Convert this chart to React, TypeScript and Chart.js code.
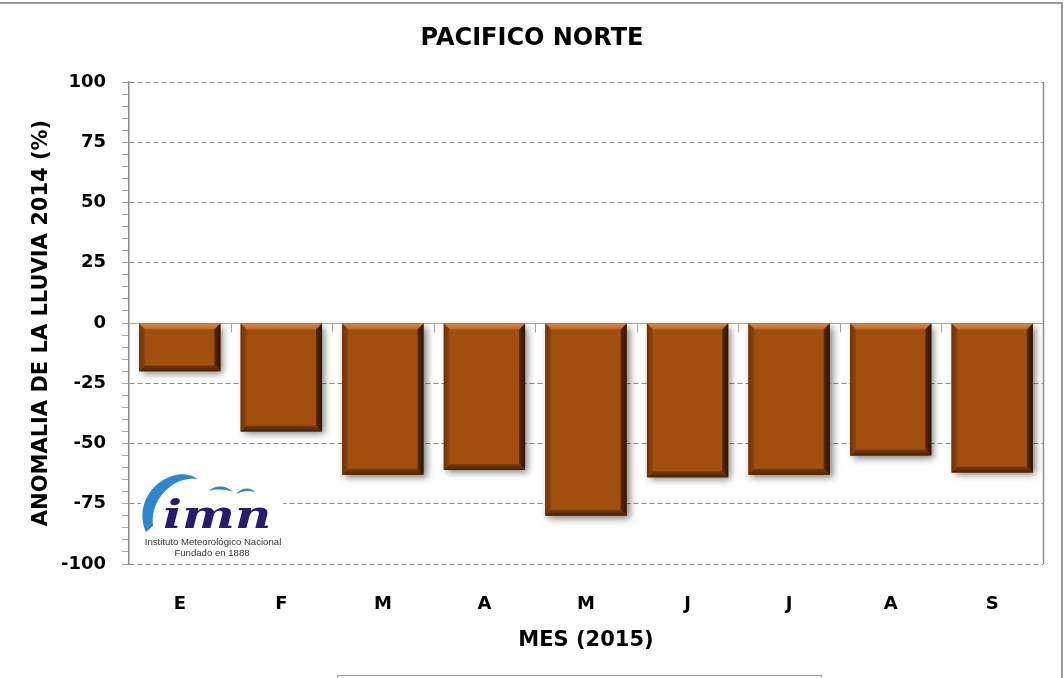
import React, { useEffect, useRef } from 'react';
import { Chart, registerables } from 'chart.js';

Chart.register(...registerables);

const chartTitle = 'PACIFICO NORTE';
const xAxisTitle = 'MES (2015)';
const yAxisTitle = 'ANOMALIA DE LA LLUVIA 2014 (%)';
const months = ['E', 'F', 'M', 'A', 'M', 'J', 'J', 'A', 'S'];
const anomalies = [-20, -45, -63, -61, -80, -64, -63, -55, -62];
const yMin = -100;
const yMax = 100;
const yStep = 5;
const yLabelStep = 25;
const logoLine1 = 'Instituto Meteorológico Nacional';
const logoLine2 = 'Fundado en 1888';
const logoText = 'imn';

const FONT = '"DejaVu Sans", sans-serif';
const BAR = '#A24F0E';

const decorPlugin = {
  id: 'decor',
  beforeDatasetsDraw(chart: any) {
    const { ctx, chartArea } = chart;
    const yScale = chart.scales.y;
    const xScale = chart.scales.x;
    const y0 = Math.round(yScale.getPixelForValue(0)) + 0.5;
    ctx.save();
    ctx.strokeStyle = '#a6a6a6';
    ctx.lineWidth = 1;
    ctx.setLineDash([]);
    ctx.beginPath();
    ctx.moveTo(chartArea.left, y0);
    ctx.lineTo(chartArea.right, y0);
    ctx.stroke();
    const n = months.length;
    for (let k = 1; k < n; k++) {
      const xp = Math.round((xScale.getPixelForValue(k - 1) + xScale.getPixelForValue(k)) / 2) + 0.5;
      ctx.beginPath();
      ctx.moveTo(xp, y0);
      ctx.lineTo(xp, y0 + 9);
      ctx.stroke();
    }
    const meta = chart.getDatasetMeta(0);
    meta.data.forEach((bar: any) => {
      const { x, y, base, width } = bar.getProps(['x', 'y', 'base', 'width'], true);
      const l = x - width / 2;
      const t = Math.min(y, base);
      const b = Math.max(y, base);
      ctx.save();
      ctx.shadowColor = 'rgba(0,0,0,0.5)';
      ctx.shadowBlur = 7;
      ctx.shadowOffsetX = 3;
      ctx.shadowOffsetY = 3;
      ctx.fillStyle = BAR;
      ctx.fillRect(l, t, width, b - t);
      ctx.restore();
    });
    ctx.restore();
  },
  afterDatasetsDraw(chart: any) {
    const { ctx, chartArea } = chart;
    const meta = chart.getDatasetMeta(0);
    const bv = 6;
    ctx.save();
    meta.data.forEach((bar: any) => {
      const { x, y, base, width } = bar.getProps(['x', 'y', 'base', 'width'], true);
      const l = x - width / 2;
      const r = x + width / 2;
      const t = Math.min(y, base);
      const b = Math.max(y, base);
      const poly = (pts: number[][], fill: any) => {
        ctx.beginPath();
        ctx.moveTo(pts[0][0], pts[0][1]);
        for (let i = 1; i < pts.length; i++) ctx.lineTo(pts[i][0], pts[i][1]);
        ctx.closePath();
        ctx.fillStyle = fill;
        ctx.fill();
      };
      const gTop = ctx.createLinearGradient(0, t, 0, t + bv);
      gTop.addColorStop(0, '#D98A4C');
      gTop.addColorStop(1, '#B9642A');
      poly([[l, t], [r, t], [r - bv, t + bv], [l + bv, t + bv]], gTop);
      const gLeft = ctx.createLinearGradient(l, 0, l + bv, 0);
      gLeft.addColorStop(0, '#6E3306');
      gLeft.addColorStop(1, '#8E4510');
      poly([[l, t], [l + bv, t + bv], [l + bv, b - bv], [l, b]], gLeft);
      const gRight = ctx.createLinearGradient(r - bv, 0, r, 0);
      gRight.addColorStop(0, '#5A2805');
      gRight.addColorStop(1, '#2E1300');
      poly([[r, t], [r - bv, t + bv], [r - bv, b - bv], [r, b]], gRight);
      const gBot = ctx.createLinearGradient(0, b - bv, 0, b);
      gBot.addColorStop(0, '#7A3A0A');
      gBot.addColorStop(1, '#4A2204');
      poly([[l, b], [l + bv, b - bv], [r - bv, b - bv], [r, b]], gBot);
    });

    ctx.strokeStyle = '#8c8c8c';
    ctx.lineWidth = 1.5;
    ctx.setLineDash([]);
    ctx.beginPath();
    ctx.moveTo(Math.round(chartArea.right) + 0.5, chartArea.top);
    ctx.lineTo(Math.round(chartArea.right) + 0.5, chartArea.bottom);
    ctx.stroke();

    // logo
    const lx = chartArea.left + 12;
    const ly = chartArea.bottom - 94;
    ctx.fillStyle = '#ffffff';
    ctx.fillRect(lx, ly, 142, 92);
    ctx.fillStyle = '#2E86D0';
    ctx.beginPath();
    ctx.moveTo(146, 532);
    ctx.bezierCurveTo(136, 510, 148, 484, 172, 476);
    ctx.bezierCurveTo(181, 473, 191, 474, 198, 479);
    ctx.bezierCurveTo(189, 478, 179, 480, 171, 486);
    ctx.bezierCurveTo(157, 496, 151, 512, 153, 526);
    ctx.closePath();
    ctx.fill();
    ctx.beginPath();
    ctx.moveTo(209, 491);
    ctx.bezierCurveTo(215, 485, 226, 485, 233, 492);
    ctx.bezierCurveTo(225, 489, 216, 489, 209, 491);
    ctx.closePath();
    ctx.fill();
    ctx.beginPath();
    ctx.moveTo(236, 494);
    ctx.bezierCurveTo(242, 487, 251, 487, 255, 492);
    ctx.bezierCurveTo(248, 490, 242, 491, 236, 494);
    ctx.closePath();
    ctx.fill();
    ctx.save();
    ctx.fillStyle = '#2A1A6E';
    ctx.font = 'italic bold 40px "DejaVu Serif", serif';
    ctx.textAlign = 'left';
    ctx.textBaseline = 'alphabetic';
    ctx.translate(163, 528);
    ctx.scale(1.25, 1);
    ctx.fillText(logoText, 0, 0);
    ctx.restore();
    ctx.fillStyle = '#333333';
    ctx.font = '9.6px "Liberation Sans", Arial, sans-serif';
    ctx.textAlign = 'center';
    ctx.textBaseline = 'middle';
    ctx.fillText(logoLine1, 213, 542);
    ctx.fillText(logoLine2, 212, 553);
    ctx.restore();
  },
};

export default function App() {
  const canvasRef = useRef<HTMLCanvasElement | null>(null);

  useEffect(() => {
    document.body.style.margin = '0';
    const canvas = canvasRef.current;
    if (!canvas) return;
    const chart = new Chart(canvas, {
      type: 'bar',
      data: {
        labels: months,
        datasets: [
          {
            data: anomalies,
            backgroundColor: BAR,
            borderWidth: 0,
            barPercentage: 0.8,
            categoryPercentage: 1,
          },
        ],
      },
      options: {
        responsive: false,
        animation: false,
        devicePixelRatio: 1,
        layout: { padding: { left: 0, right: 0, top: 0, bottom: 0 } },
        plugins: {
          legend: { display: false },
          tooltip: { enabled: false },
          title: {
            display: true,
            text: chartTitle,
            color: '#000',
            font: { family: FONT, size: 24, weight: 'bold' },
            padding: { top: 24, bottom: 29.2 },
          },
        },
        scales: {
          x: {
            grid: { display: false, drawTicks: false },
            border: { display: false },
            ticks: {
              color: '#000',
              font: { family: FONT, size: 18, weight: 'bold' },
              padding: 30,
            },
            title: {
              display: true,
              text: xAxisTitle,
              color: '#000',
              font: { family: FONT, size: 21, weight: 'bold' },
              padding: { top: 0, bottom: 25 },
            },
            afterFit: (scale: any) => {
              scale.height = 114;
            },
          },
          y: {
            min: yMin,
            max: yMax,
            afterBuildTicks: (scale: any) => {
              const ticks = [];
              for (let v = yMin; v <= yMax; v += yStep) ticks.push({ value: v });
              scale.ticks = ticks;
            },
            ticks: {
              autoSkip: false,
              color: '#000',
              font: { family: FONT, size: 18, weight: 'bold' },
              padding: 16,
              callback: (v: any) => (Number(v) % yLabelStep === 0 ? String(v) : ''),
            },
            grid: {
              color: (c: any) => (c.tick && c.tick.value % yLabelStep === 0 ? '#8a8a8a' : 'rgba(0,0,0,0)'),
              tickColor: '#a0a0a0',
              tickLength: 7,
              lineWidth: 1,
            },
            border: { display: true, color: '#8c8c8c', width: 1.5, dash: [5, 3] },
            title: {
              display: true,
              text: yAxisTitle,
              color: '#000',
              font: { family: FONT, size: 21, weight: 'bold' },
              padding: { top: 29, bottom: 0 },
            },
            afterFit: (scale: any) => {
              scale.width = 129;
            },
          },
          yRight: {
            position: 'right',
            min: yMin,
            max: yMax,
            display: true,
            grid: { display: false, drawTicks: false },
            border: { display: false },
            ticks: { display: false },
            afterFit: (scale: any) => {
              scale.width = 21;
            },
          },
        },
      },
      plugins: [decorPlugin],
    });
    return () => chart.destroy();
  }, []);

  return (
    <div style={{ position: 'relative', width: 1064, height: 678, background: '#fff', overflow: 'hidden' }}>
      <canvas ref={canvasRef} width={1064} height={678} style={{ display: 'block' }} />
      <div
        style={{
          position: 'absolute',
          left: -2,
          top: 2,
          width: 1063,
          height: 700,
          borderTop: '2px solid #9a9a9a',
          borderRight: '2px solid #9a9a9a',
          pointerEvents: 'none',
        }}
      />
      <div
        style={{
          position: 'absolute',
          left: 337,
          top: 675,
          width: 483,
          height: 20,
          border: '1px solid #9a9a9a',
          pointerEvents: 'none',
        }}
      />
    </div>
  );
}
